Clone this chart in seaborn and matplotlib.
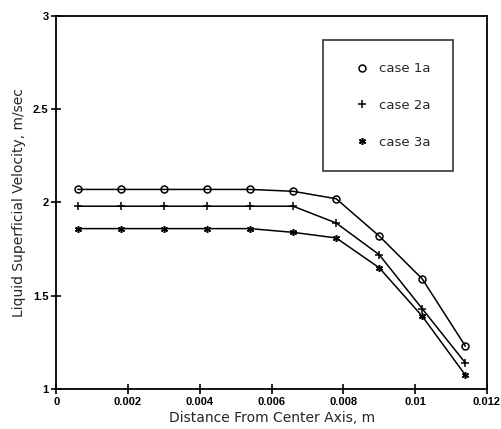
import numpy as np
import pandas as pd
import seaborn as sns
import matplotlib.pyplot as plt
from matplotlib.lines import Line2D

# данные
distance = [0.0006, 0.0018, 0.0030, 0.0042, 0.0054, 0.0066, 0.0078, 0.0090, 0.0102, 0.0114]
case_1a = [2.07, 2.07, 2.07, 2.07, 2.07, 2.06, 2.02, 1.82, 1.59, 1.23]
case_2a = [1.98, 1.98, 1.98, 1.98, 1.98, 1.98, 1.89, 1.72, 1.43, 1.14]
case_3a = [1.86, 1.86, 1.86, 1.86, 1.86, 1.84, 1.81, 1.65, 1.39, 1.075]
labels = ["case 1a", "case 2a", "case 3a"]

df = pd.DataFrame({
    "x": distance * 3,
    "v": case_1a + case_2a + case_3a,
    "case": np.repeat(labels, len(distance)),
})

sns.set_theme(style="white")
plt.rcParams['font.family'] = ['DejaVu Sans']

fig = plt.figure(figsize=(5.02, 4.29), dpi=100)
ax = fig.add_axes([0.112, 0.093, 0.858, 0.87])

markers = {"case 1a": "o", "case 2a": "+", "case 3a": (6, 2, 0)}
sizes = {"case 1a": 5, "case 2a": 6, "case 3a": 5}
for lab in labels:
    sub = df[df["case"] == lab]
    sns.lineplot(data=sub, x="x", y="v", ax=ax, color="black", lw=1.1,
                 marker=markers[lab], markersize=sizes[lab], mfc="none",
                 mec="black", mew=1.1, legend=False)

ax.set_xlim(0, 0.012)
ax.set_ylim(1, 3)
ax.set_xticks([0, 0.002, 0.004, 0.006, 0.008, 0.01, 0.012])
ax.set_xticklabels(["0", "0.002", "0.004", "0.006", "0.008", "0.01", "0.012"])
ax.set_yticks([1, 1.5, 2, 2.5, 3])
ax.set_yticklabels(["1", "1.5", "2", "2.5", "3"])
ax.tick_params(bottom=True, left=True, direction="inout", length=7, width=1.2,
               labelsize=8, colors="black", pad=2)
for t in ax.get_xticklabels() + ax.get_yticklabels():
    t.set_fontweight("bold")
    t.set_family("Liberation Sans")
ax.set_xlabel("Distance From Center Axis, m", fontsize=10, labelpad=3)
ax.set_ylabel("Liquid Superficial Velocity, m/sec", fontsize=10, labelpad=5)
for s in ax.spines.values():
    s.set_color("black")
    s.set_linewidth(1.3)

handles = [Line2D([], [], ls="none", color="black", marker=markers[l],
                  markersize=sizes[l], mfc="none", mew=1.1) for l in labels]
leg = ax.legend(handles, labels, loc="upper left", bbox_to_anchor=(0.62, 0.936),
                frameon=True, fancybox=False, edgecolor="black", fontsize=9.5,
                handlelength=2.4, handletextpad=0.1, labelspacing=1.8,
                borderpad=1.7, borderaxespad=0)
leg.get_frame().set_linewidth(1.2)

fig.savefig("out.png", dpi=100)
